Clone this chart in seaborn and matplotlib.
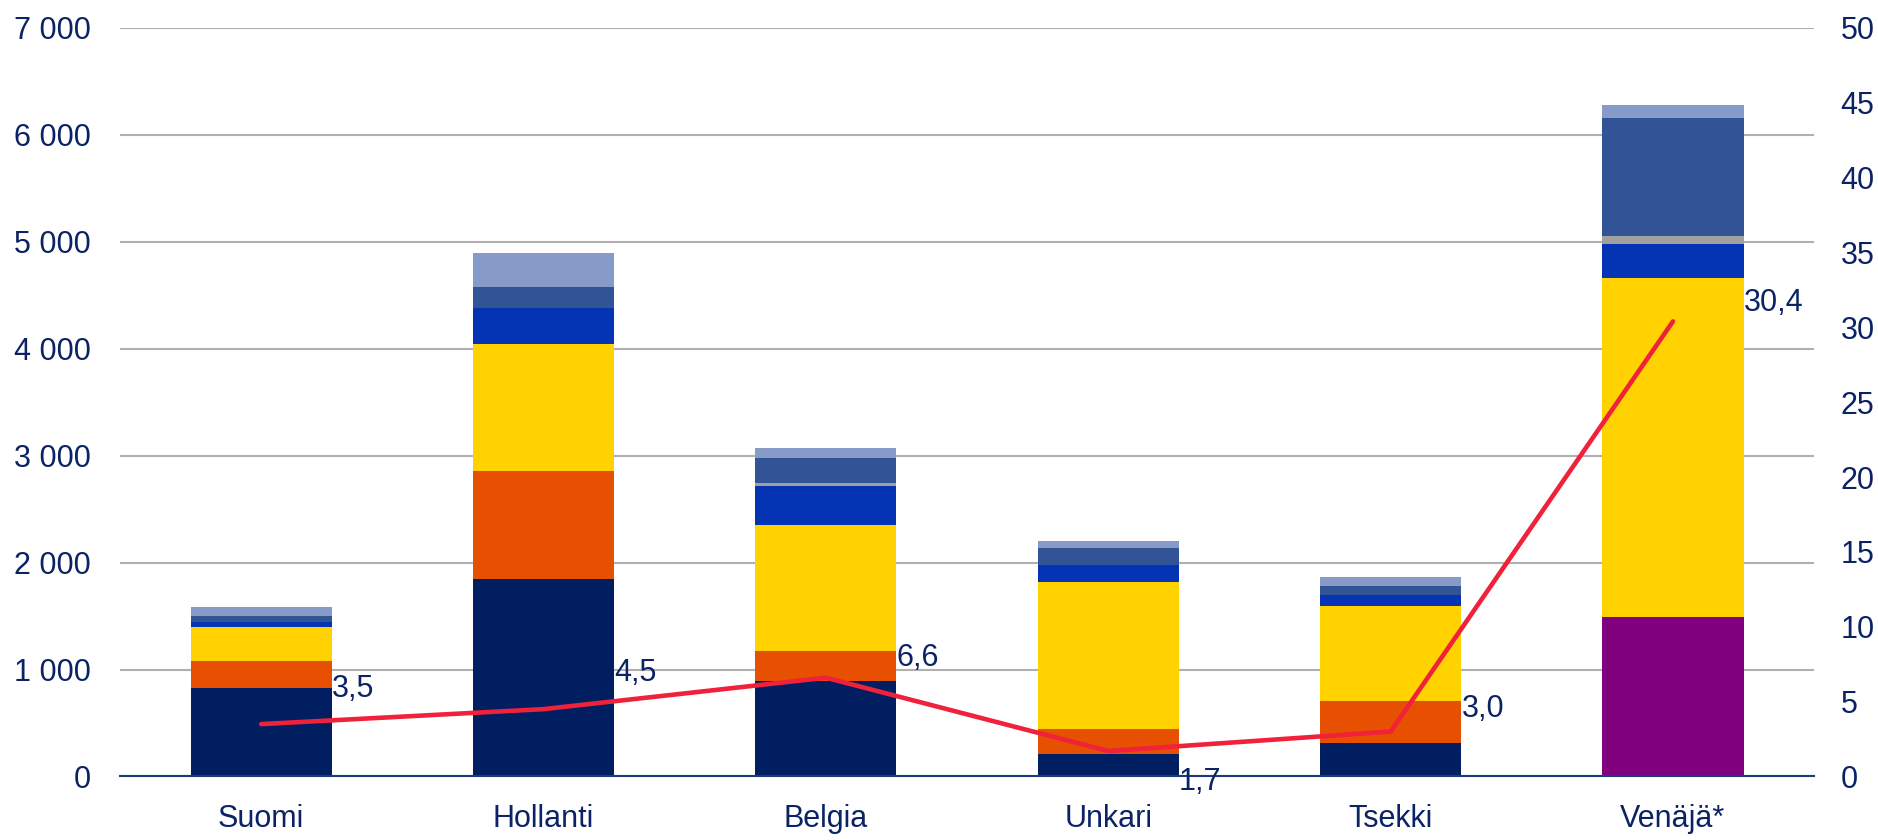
import numpy as np
import pandas as pd
import seaborn as sns
import matplotlib.pyplot as plt
from matplotlib.ticker import FuncFormatter

# Categories and stacked segments (bottom -> top)
countries = ["Suomi", "Hollanti", "Belgia", "Unkari", "Tsekki", "Venäjä*"]
purple_seg = [0, 0, 0, 0, 0, 1490]
navy_seg = [830, 1846, 893, 210, 316, 0]
orange_seg = [250, 1009, 280, 234, 390, 0]
yellow_seg = [318, 1186, 1177, 1374, 888, 3170]
blue_seg = [47, 336, 365, 156, 102, 318]
grey_seg = [0, 0, 28, 0, 0, 75]
midblue_seg = [56, 205, 233, 162, 84, 1106]
light_seg = [84, 309, 99, 64, 87, 122]

# Line on right axis
line_vals = [3.5, 4.5, 6.6, 1.7, 3.0, 30.4]
line_labels = ["3,5", "4,5", "6,6", "1,7", "3,0", "30,4"]

segments = [
    (purple_seg, "#800080"),
    (navy_seg, "#001E60"),
    (orange_seg, "#E65000"),
    (yellow_seg, "#FFD200"),
    (blue_seg, "#0433B4"),
    (grey_seg, "#A0A0A0"),
    (midblue_seg, "#335397"),
    (light_seg, "#879BC9"),
]

text_col = "#0B2265"
sns.set_theme(style="white")
plt.rcParams["font.family"] = ["Liberation Sans", "DejaVu Sans"]
fs = 22

fig = plt.figure(figsize=(18.78, 8.4), dpi=100)
ax = fig.add_axes([0.0639, 0.0756, 0.9021, 0.8911])

# cumulative totals, drawn from the top down so each lower bar overlays
cum = np.cumsum([np.array(s, dtype=float) for s, _ in segments], axis=0)
for i in range(len(segments) - 1, -1, -1):
    df = pd.DataFrame({"country": countries, "value": cum[i]})
    sns.barplot(data=df, x="country", y="value", color=segments[i][1],
                saturation=1, width=0.5, linewidth=0, edgecolor="none",
                ax=ax, zorder=2)

ax.set_ylim(0, 7000)
ax.set_xlim(-0.5, 5.5)
ax.set_yticks(range(0, 7001, 1000))
ax.yaxis.set_major_formatter(FuncFormatter(lambda v, p: f"{int(v):,}".replace(",", " ")))
ax.yaxis.grid(True, color="#B0B0B0", linewidth=1.5, zorder=0)
ax.set_axisbelow(True)
ax.set_xlabel("")
ax.set_ylabel("")
for s in ["top", "right", "left"]:
    ax.spines[s].set_visible(False)
ax.spines["bottom"].set_color("#1F3A78")
ax.spines["bottom"].set_linewidth(1.5)
ax.spines["bottom"].set_zorder(3)
ax.tick_params(axis="y", labelsize=fs, labelcolor=text_col, length=0, pad=21)
ax.tick_params(axis="x", labelsize=fs, labelcolor=text_col, length=0, pad=20)

ax2 = ax.twinx()
sns.lineplot(x=np.arange(len(countries)), y=line_vals, color="#F0213A",
             linewidth=3.3, ax=ax2, zorder=5)
ax2.set_ylim(0, 50)
ax2.set_yticks(range(0, 51, 5))
ax2.tick_params(axis="y", labelsize=fs, labelcolor=text_col, length=0, pad=19)
for s in ax2.spines.values():
    s.set_visible(False)
ax2.grid(False)

label_dy = [25, 26, 14, -22, 16, 13]
for i, (v, lab) in enumerate(zip(line_vals, line_labels)):
    ax2.annotate(lab, (i, v), xytext=(51, label_dy[i]),
                 textcoords="offset points", fontsize=fs, color=text_col,
                 ha="left", va="center")

fig.savefig("out.png", dpi=100)
